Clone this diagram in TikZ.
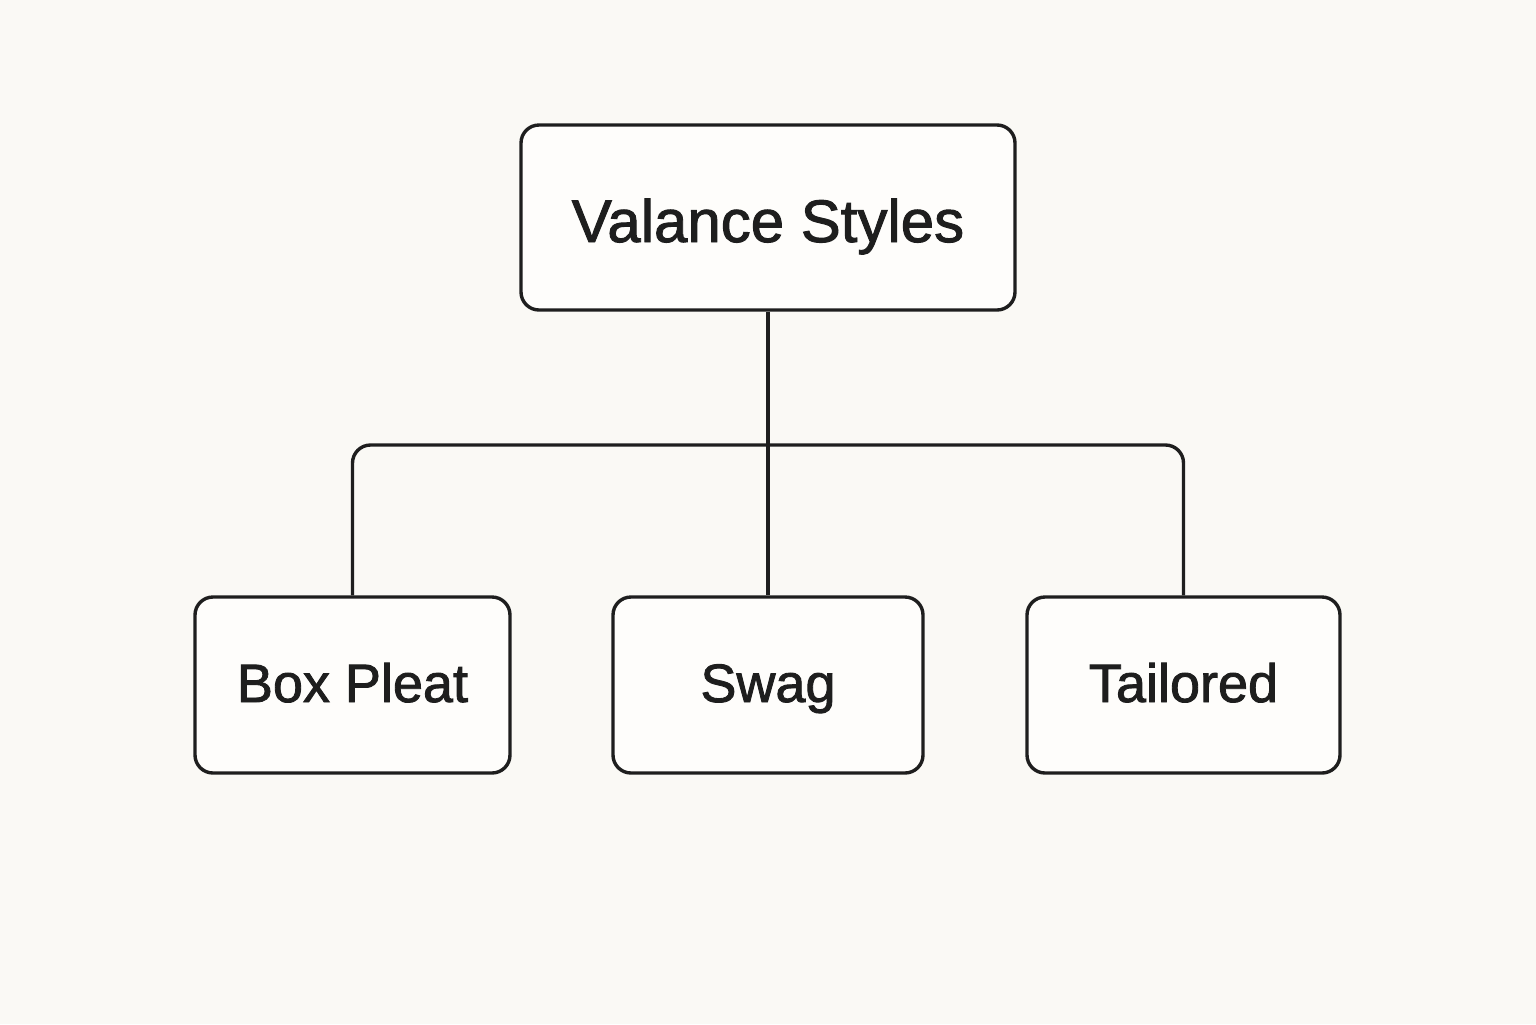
\documentclass[tikz,border=0pt]{standalone}
\usepackage{fontspec}
\setmainfont{Liberation Sans}
\newfontfamily\medfont[FakeBold=1.6]{Liberation Sans}
\definecolor{bg}{HTML}{FAF9F5}
\definecolor{boxfill}{HTML}{FEFDFB}
\definecolor{ink}{HTML}{1E1E1E}
\tikzset{
  box/.style={draw=ink, fill=boxfill, line width=1.7pt, rounded corners=9pt,
    inner sep=0pt, text=ink, align=center},
  topbox/.style={box, minimum width=247pt, minimum height=92.5pt,
    text height=30pt, text depth=5.5pt, font=\medfont\fontsize{30}{36}\selectfont},
  leafbox/.style={box, minimum width=156pt, minimum height=88pt,
    text height=22pt, text depth=5pt, font=\medfont\fontsize{27}{32}\selectfont},
  link/.style={draw=ink, line width=1.7pt}
}
\begin{document}
\begin{tikzpicture}[x=0.5pt,y=-0.5pt]
\fill[bg] (0,0) rectangle (1536,1024);
\useasboundingbox (0,0) rectangle (1536,1024);
\node[topbox] (top) at (768,217.5) {Valance Styles};
\node[leafbox, minimum width=157.5pt] (box) at (352.5,685) {Box Pleat};
\node[leafbox, minimum width=155pt] (swag) at (768,685) {Swag};
\node[leafbox, minimum width=156.5pt] (tail) at (1183.5,685) {Tailored};
\coordinate (bar) at (768,445);
\draw[link] (top.south) -- (swag.north);
\draw[link, rounded corners=9pt] (box.north) |- (bar) -| (tail.north);
\end{tikzpicture}
\end{document}
